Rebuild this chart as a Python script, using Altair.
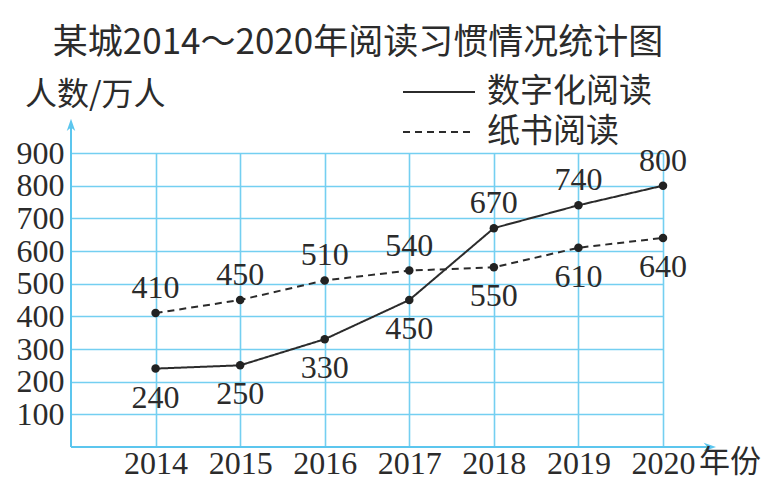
import altair as alt
import pandas as pd

# ---- data ----
years = [2014, 2015, 2016, 2017, 2018, 2019, 2020]
digital = [240, 250, 330, 450, 670, 740, 800]
paper = [410, 450, 510, 540, 550, 610, 640]
series_names = ["数字化阅读", "纸书阅读"]
y_ticks = [100, 200, 300, 400, 500, 600, 700, 800, 900]
title_text = "某城2014～2020年阅读习惯情况统计图"
y_title = "人数/万人"
x_title = "年份"

rows = []
for i, yr in enumerate(years):
    rows.append({"year": yr, "value": digital[i], "series": series_names[0],
                 "above": bool(digital[i] >= paper[i])})
    rows.append({"year": yr, "value": paper[i], "series": series_names[1],
                 "above": bool(paper[i] > digital[i])})
df = pd.DataFrame(rows)
df["label"] = df["value"].astype(str)

CYAN = "#5cc6ee"
GRID = "#74cff1"
INK = "#2b2b2b"
SERIF = "Liberation Serif"
CJK = "Noto Sans CJK SC"

xscale = alt.Scale(domain=[2013, 2020], nice=False, zero=False)
yscale = alt.Scale(domain=[0, 900], nice=False)

xaxis = alt.Axis(values=years, format="d", grid=True, gridColor=GRID, gridWidth=1.6,
                 domain=False, ticks=False, tickSize=0, labelFont=SERIF,
                 labelFontSize=32, labelColor=INK, labelPadding=1, title=None,
                 labelFlush=False, labelOverlap=False)
yaxis = alt.Axis(values=y_ticks, grid=True, gridColor=GRID, gridWidth=1.6,
                 domain=False, ticks=False, tickSize=0, labelFont=SERIF,
                 labelFontSize=32, labelColor=INK, labelPadding=7, title=None,
                 labelOverlap=False, labelFlush=False, labelBound=False)

xenc = alt.X("year:Q", scale=xscale, axis=xaxis)
yenc = alt.Y("value:Q", scale=yscale, axis=yaxis)

base = alt.Chart(df)

lines = base.mark_line(strokeWidth=2).encode(
    x=xenc, y=yenc,
    color=alt.Color("series:N", scale=alt.Scale(domain=series_names, range=[INK, INK]), legend=None),
    strokeDash=alt.StrokeDash("series:N", scale=alt.Scale(domain=series_names, range=[[1, 0], [7, 5]]),
                              legend=None),
    detail="series:N",
)

points = base.mark_circle(size=72, opacity=1, color="#222").encode(x=xenc, y=yenc)

labels_above = base.transform_filter("datum.above").mark_text(
    font=SERIF, fontSize=32, color=INK, dy=-25, baseline="middle", align="center").encode(
    x=xenc, y=yenc, text="label:N")
labels_below = base.transform_filter("!datum.above").mark_text(
    font=SERIF, fontSize=32, color=INK, dy=29, baseline="middle", align="center").encode(
    x=xenc, y=yenc, text="label:N")

# axis lines with arrows (in data units of the two scales)
x_line_df = pd.DataFrame({"year": [2013], "x1": [2020.55], "value": [0]})
x_axis_line = alt.Chart(x_line_df).mark_rule(color=CYAN, strokeWidth=2).encode(
    x=xenc, x2="x1:Q", y=yenc)
x_arrow_df = pd.DataFrame({"year": [2020.55], "value": [0]})
x_arrow = alt.Chart(x_arrow_df).mark_point(
    shape="M1,0L-0.9,-0.65L-0.35,0L-0.9,0.65Z", filled=True, size=170, color=CYAN, opacity=1).encode(
    x=xenc, y=yenc)

y_line_df = pd.DataFrame({"year": [2013], "value": [0], "y1": [985]})
y_axis_line = alt.Chart(y_line_df).mark_rule(color=CYAN, strokeWidth=2).encode(
    x=xenc, y=yenc, y2="y1:Q")
y_arrow_df = pd.DataFrame({"year": [2013], "value": [985]})
y_arrow = alt.Chart(y_arrow_df).mark_point(
    shape="M0,-1L0.65,0.9L0,0.35L-0.65,0.9Z", filled=True, size=170, color=CYAN, opacity=1).encode(
    x=xenc, y=yenc)

# texts
def text_layer(txt, x, y, size, align="left", font=CJK, weight="normal"):
    return alt.Chart(pd.DataFrame({"t": [txt]})).mark_text(
        font=font, fontSize=size, align=align, baseline="middle", color=INK, fontWeight=weight
    ).encode(text="t:N", x=alt.value(x), y=alt.value(y))

title = text_layer(title_text, 287, -110, 35, align="center")
ytitle = text_layer(y_title, -46, -58, 32)
xtitle = text_layer(x_title, 628, 310, 31)

legend_layers = []
dashes = [[1, 0], [7, 5]]
for i, name in enumerate(series_names):
    yy = -61 + 40 * i
    legend_layers.append(
        alt.Chart(pd.DataFrame({"s": [name]})).mark_rule(
            color=INK, strokeWidth=2, strokeDash=dashes[i]).encode(
            x=alt.value(332), x2=alt.value(404), y=alt.value(yy)))
    legend_layers.append(text_layer(name, 416, yy, 33))

chart = alt.layer(
    lines, points, labels_above, labels_below,
    x_axis_line, x_arrow, y_axis_line, y_arrow,
    title, ytitle, xtitle, *legend_layers
).properties(
    width=592, height=294,
    padding={"left": 63, "top": 145, "right": 108, "bottom": 44},
    autosize="none",
).configure_view(stroke=None).configure_axis(labelOverlap=False).configure(background="white")

chart.save("out.html", embed_options={"renderer": "svg", "actions": False})
